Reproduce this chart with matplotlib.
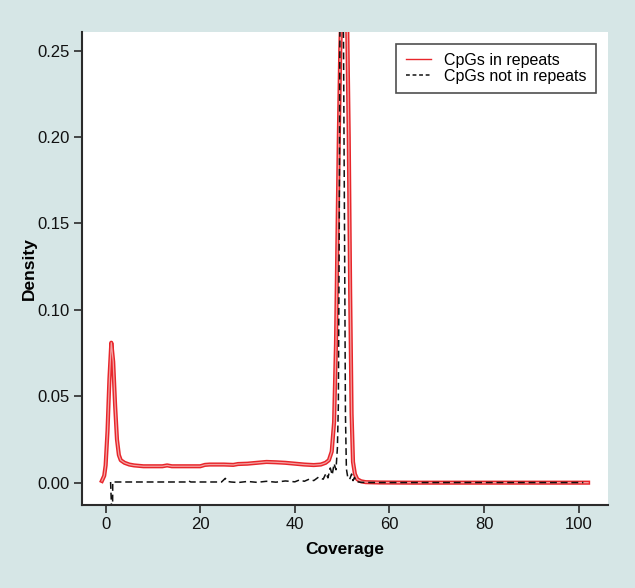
import matplotlib
matplotlib.use("Agg")
import matplotlib.pyplot as plt
import matplotlib.patheffects as pe
from matplotlib.lines import Line2D

plt.rcParams['font.family'] = ['Liberation Sans', 'DejaVu Sans']

# CpGs in repeats (density vs coverage)
rep_x = [-0.8, -0.3, 0.0, 0.4, 0.8, 1.2, 1.6, 2.0, 2.4, 2.8, 3.2, 4.0, 5.0, 6.0,
         8.0, 10.0, 12.0, 13.0, 14.0, 16.0, 20.0, 21.0, 22.0, 25.0, 27.0, 28.0,
         30.0, 32.0, 34.0, 36.0, 38.0, 40.0, 42.0, 44.0, 45.5, 46.5, 47.2,
         47.8, 48.3, 48.7, 49.0, 49.3, 49.6, 50.0, 50.5, 51.0, 51.4, 51.7,
         52.0, 52.3, 52.7, 53.2, 54.0, 55.0, 58.0, 65.0, 80.0, 95.0, 102.0]
rep_y = [0.001, 0.004, 0.010, 0.030, 0.060, 0.081, 0.070, 0.045, 0.025, 0.016,
         0.013, 0.0115, 0.0105, 0.010, 0.0095, 0.0095, 0.0095, 0.010, 0.0095,
         0.0095, 0.0095, 0.0103, 0.0105, 0.0105, 0.0103, 0.0108, 0.011, 0.0115,
         0.012, 0.0118, 0.0115, 0.011, 0.0105, 0.0102, 0.0105, 0.0115, 0.013,
         0.018, 0.035, 0.080, 0.140, 0.200, 0.250, 0.290, 0.295, 0.280, 0.200,
         0.110, 0.040, 0.012, 0.005, 0.002, 0.0008, 0.0003, 0.0001, 0.0,
         0.0, 0.0, 0.0]

# CpGs not in repeats
nrep_x = [1.05, 1.45, 1.5, 3.0, 8.0, 12.0, 17.0, 17.5, 18.0, 24.5, 25.3, 25.8,
          26.5, 28.0, 30.0, 32.0, 34.0, 36.0, 38.0, 40.0, 41.0, 42.0, 43.0,
          44.0, 45.0, 46.0, 46.6, 47.0, 47.5, 47.9, 48.3, 48.7, 49.0, 49.2,
          49.4, 49.6, 49.9, 50.2, 50.5, 50.7, 50.9, 51.2, 51.6, 52.0, 52.3,
          52.6, 53.0, 54.0, 56.0, 70.0, 85.0, 101.0]
nrep_y = [0.0004, -0.03, 0.0004, 0.0004, 0.0004, 0.0004, 0.0004, 0.0011,
          0.0004, 0.0004, 0.0025, 0.0007, 0.0004, 0.0001, 0.0007, 0.0002,
          0.0008, 0.0003, 0.0010, 0.0005, 0.0016, 0.0008, 0.0020, 0.0012,
          0.0032, 0.0020, 0.0055, 0.0028, 0.0085, 0.0045, 0.0110, 0.0075,
          0.0200, 0.0450, 0.1500, 0.3200, 0.3200, 0.3000, 0.1500, 0.0400,
          0.0080, 0.0030, 0.0020, 0.0050, 0.0012, 0.0030, 0.0006, 0.0002,
          0.0001, 0.0001, 0.0001, 0.0001]

x_ticks = [0, 20, 40, 60, 80, 100]
y_ticks = [0.00, 0.05, 0.10, 0.15, 0.20, 0.25]

bg = '#d6e6e6'
spine_col = '#2b2b2b'

fig = plt.figure(figsize=(6.35, 5.88), dpi=100, facecolor=bg)
ax = fig.add_axes([0.1291, 0.1412, 0.8283, 0.8044])
ax.set_facecolor('white')

ax.plot(rep_x, rep_y, color='#f3a3a3', lw=0.9,
        path_effects=[pe.Stroke(linewidth=3.0, foreground='#e8262b'), pe.Normal()])
ax.plot(nrep_x, nrep_y, color='#111111', lw=1.1, dashes=(4.5, 2.5))

ax.set_xlim(-5.0, 106.2)
ax.set_ylim(-0.0129, 0.2608)
ax.set_xticks(x_ticks)
ax.set_xticklabels([str(v) for v in x_ticks])
ax.set_yticks(y_ticks)
ax.set_yticklabels([f'{v:.2f}' for v in y_ticks])

for s in ['top', 'right']:
    ax.spines[s].set_visible(False)
for s in ['left', 'bottom']:
    ax.spines[s].set_color(spine_col)
    ax.spines[s].set_linewidth(1.5)
ax.tick_params(direction='out', length=6, width=1.2, color=spine_col,
               labelsize=12, labelcolor='#111111', pad=3)

ax.set_xlabel('Coverage', fontsize=12.5, fontweight='bold', labelpad=7)
ax.set_ylabel('Density', fontsize=12.5, fontweight='bold', labelpad=0)

handles = [Line2D([], [], color='#e8262b', lw=1.0),
           Line2D([], [], color='#111111', lw=1.1, dashes=(2.5, 1.8))]
labels = ['CpGs in repeats', 'CpGs not in repeats']
leg = ax.legend(handles, labels, loc='upper right',
                bbox_to_anchor=(596 / 635, 1 - 43.5 / 588),
                bbox_transform=fig.transFigure, fontsize=11.5,
                frameon=True, fancybox=False, handlelength=1.6,
                borderpad=0.6, labelspacing=0.05, handletextpad=0.8,
                borderaxespad=0)
leg.get_frame().set_edgecolor('#222222')
leg.get_frame().set_linewidth(1.2)

fig.savefig('out.png', dpi=100, facecolor=bg)
